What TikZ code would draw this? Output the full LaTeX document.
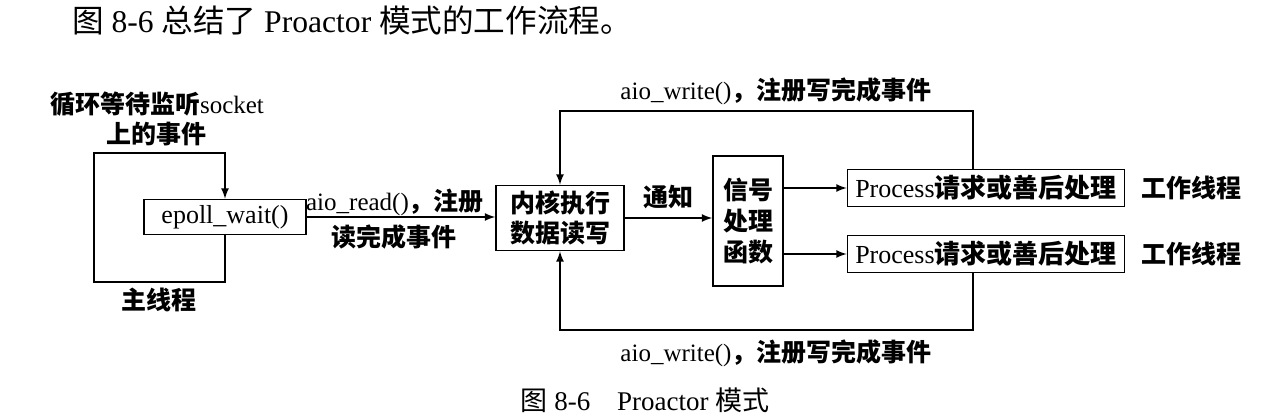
\documentclass[tikz,border=0pt]{standalone}
\usepackage{fontspec}
\setmainfont{Liberation Serif}
\newfontfamily\cjk{Noto Sans CJK SC}
\newcommand{\zh}[1]{{\cjk\bfseries #1}}
\newcommand{\zhl}[1]{{\cjk #1}}
\tikzset{
	box/.style={draw, line width=0.8pt, inner sep=0pt, align=center},
}
\begin{document}
\begin{tikzpicture}[x=0.5pt, y=-0.5pt, >=latex, line width=0.8pt, node font=\fontsize{12.5}{15}\selectfont]
	\useasboundingbox (0,0) rectangle (1282,418);

	\node (caption) at (352,20) {\fontsize{15.8}{19}\selectfont\zhl{图} 8-6 \zhl{总结了} Proactor \zhl{模式的工作流程。}};%Einleitung
	\node (figtitle) at (645,400) {\fontsize{13.5}{16}\selectfont\zhl{图} 8-6\hspace{1em}Proactor \zhl{模式}};%Bildunterschrift

	\node[box, minimum width=81pt, minimum height=17.5pt] (epoll) at (225,217) {\fontsize{13}{15}\selectfont epoll\_wait()};
	\node[box, minimum width=64pt, minimum height=32.5pt] (kernel) at (560,218) {\zh{内核执行}\\\zh{数据读写}};
	\node[box, minimum width=35pt, minimum height=65pt, font=\fontsize{12.5}{15.5}\selectfont] (signal) at (748,221) {\zh{信号}\\\zh{处理}\\\zh{函数}};
	\node[box, minimum width=138.5pt, minimum height=18.5pt] (proc1) at (986,188) {\fontsize{13}{15}\selectfont Process\zh{请求或善后处理}};
	\node[box, minimum width=138.5pt, minimum height=18.5pt] (proc2) at (986,254) {\fontsize{13}{15}\selectfont Process\zh{请求或善后处理}};

	\node (loopLabel) at (157,119) [align=center] {\zh{循环等待监听}socket\\\zh{上的事件}};
	\node (mainThread) at (159,300) {\zh{主线程}};
	\node (worker1) at (1191,188) {\zh{工作线程}};
	\node (worker2) at (1191,254) {\zh{工作线程}};

	%Hauptschleife
	\coordinate (loopTL) at (94,153);
	\coordinate (loopB) at (225,282);
	\draw[->] (epoll.south) -- (epoll.south |- loopB) -| (loopTL) -| (epoll.north);

	\draw[->] (epoll.east) -- (epoll.east -| kernel.west);
	\node (readTop) at (395,202) {aio\_read()\zh{，注册}};
	\node (readBot) at (394,237) {\zh{读完成事件}};

	\draw[->] (kernel.east) -- node[above] {\zh{通知}} (kernel.east -| signal.west);

	\draw[->] (proc1.west -| signal.east) -- (proc1.west);
	\draw[->] (proc2.west -| signal.east) -- (proc2.west);

	%Rueckkopplung oben und unten
	\coordinate (fbTop) at (973,111);
	\coordinate (fbBot) at (973,330);
	\draw[->] (fbTop |- proc1.north) -- (fbTop) -| (kernel.north);
	\draw[->] (fbBot |- proc2.south) -- (fbBot) -| (kernel.south);
	\node (writeTop) at (776,91) {aio\_write()\zh{，注册写完成事件}};
	\node (writeBot) at (776,353) {aio\_write()\zh{，注册写完成事件}};
\end{tikzpicture}
\end{document}
